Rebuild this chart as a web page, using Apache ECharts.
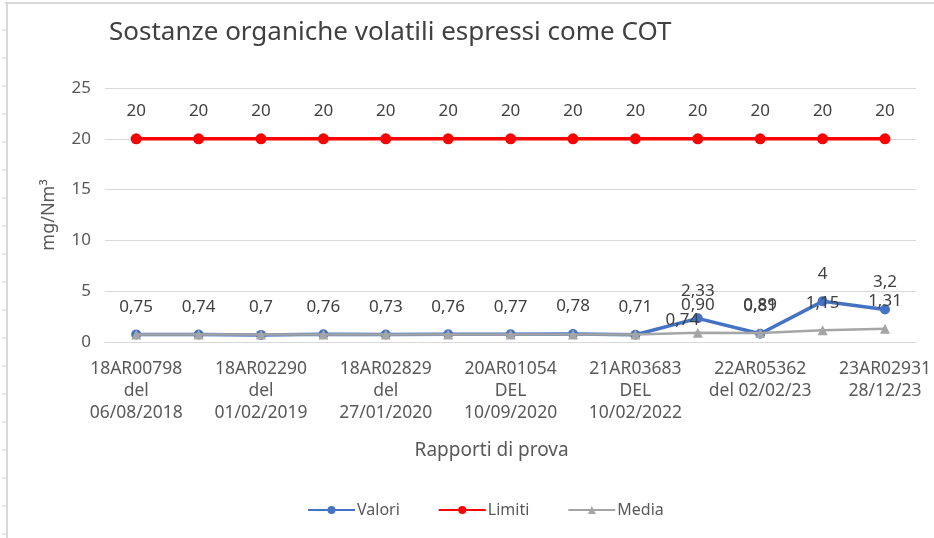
<!DOCTYPE html>
<html>
<head>
<meta charset="utf-8">
<script src="https://cdn.jsdelivr.net/npm/echarts@6/dist/echarts.min.js"></script>
<style>
html,body{margin:0;padding:0;background:#fff;}
#c{width:934px;height:538px;}
</style>
</head>
<body>
<div id="c"></div>
<script>
var categories = [
  "18AR00798\ndel\n06/08/2018",
  "18AR01580\ndel\n20/11/2018",
  "18AR02290\ndel\n01/02/2019",
  "19AR01420\ndel\n15/07/2019",
  "18AR02829\ndel\n27/01/2020",
  "20AR00310\ndel\n05/03/2020",
  "20AR01054\nDEL\n10/09/2020",
  "21AR00620\ndel\n12/03/2021",
  "21AR03683\nDEL\n10/02/2022",
  "22AR01840\ndel\n20/06/22",
  "22AR05362\ndel 02/02/23",
  "23AR01120\ndel 15/06/23",
  "23AR02931\n28/12/23"
];
var valori = [0.75, 0.74, 0.7, 0.76, 0.73, 0.76, 0.77, 0.78, 0.71, 2.33, 0.81, 4, 3.2];
var limiti = [20, 20, 20, 20, 20, 20, 20, 20, 20, 20, 20, 20, 20];
var media  = [0.75, 0.75, 0.73, 0.74, 0.74, 0.74, 0.74, 0.75, 0.74, 0.90, 0.89, 1.15, 1.31];
var yTicks = [0, 5, 10, 15, 20, 25];

var FONT = "Noto Sans";
var chart = echarts.init(document.getElementById('c'));

var mediaData = media.map(function (v, i) {
  var item = { value: v, label: { show: i >= 8 } };
  if (i === 8) item.label.offset = [47, 13];
  return item;
});

var rulerTicks = [];
for (var k = 0; k < 19; k++) {
  rulerTicks.push({
    type: 'line', silent: true,
    shape: { x1: 2, y1: 30 + 28 * k, x2: 7, y2: 30 + 28 * k },
    style: { stroke: '#d0d0d0', lineWidth: 1 }
  });
}

var option = {
  backgroundColor: '#fff',
  animation: false,
  textStyle: { fontFamily: FONT },
  title: {
    text: 'Sostanze organiche volatili espressi come COT',
    left: 104, top: 15,
    textStyle: { fontFamily: FONT, fontSize: 26, fontWeight: 'normal', color: '#404040' }
  },
  graphic: [
    { type: 'line', silent: true, shape: { x1: 5, y1: 3, x2: 934, y2: 3 }, style: { stroke: '#d9d9d9', lineWidth: 2 } },
    { type: 'line', silent: true, shape: { x1: 7, y1: 3, x2: 7, y2: 538 }, style: { stroke: '#d9d9d9', lineWidth: 2 } }
  ].concat(rulerTicks),
  legend: {
    data: ['Valori', 'Limiti', 'Media'],
    left: 302, top: 497,
    itemWidth: 47, itemHeight: 10, itemGap: 38,
    textStyle: { fontFamily: FONT, fontSize: 16, color: '#595959', padding: [0, 0, 0, -3] }
  },
  grid: { left: 105, right: 16, top: 88, bottom: 196 },
  xAxis: {
    type: 'category',
    data: categories,
    boundaryGap: true,
    name: 'Rapporti di prova',
    nameLocation: 'middle',
    nameGap: 99,
    nameTextStyle: { fontFamily: FONT, fontSize: 19, color: '#595959', padding: [0, 38, 0, 0] },
    axisLine: { show: true, lineStyle: { color: '#d9d9d9', width: 1 } },
    axisTick: { show: false },
    axisLabel: {
      interval: 1, margin: 16,
      fontFamily: FONT, fontSize: 17.5, lineHeight: 22, color: '#595959'
    }
  },
  yAxis: {
    type: 'value',
    min: yTicks[0], max: yTicks[yTicks.length - 1], interval: 5,
    name: 'mg/Nm³',
    nameLocation: 'middle',
    nameGap: 47,
    nameTextStyle: { fontFamily: FONT, fontSize: 18, color: '#595959' },
    axisLine: { show: false },
    axisTick: { show: false },
    axisLabel: { margin: 14, fontFamily: FONT, fontSize: 17, color: '#595959' },
    splitLine: { lineStyle: { color: '#d9d9d9', width: 1 } }
  },
  series: [
    {
      name: 'Valori', type: 'line', data: valori,
      symbol: 'circle', symbolSize: 10,
      itemStyle: { color: '#4472C4' },
      lineStyle: { color: '#4472C4', width: 3.5 },
      label: {
        show: true, position: 'top', distance: 14,
        fontFamily: FONT, fontSize: 17, color: '#404040',
        formatter: function (p) { return String(p.value).replace('.', ','); }
      },
      z: 3
    },
    {
      name: 'Limiti', type: 'line', data: limiti,
      symbol: 'circle', symbolSize: 11,
      itemStyle: { color: '#FF0000' },
      lineStyle: { color: '#FF0000', width: 3.5 },
      label: {
        show: true, position: 'top', distance: 14,
        fontFamily: FONT, fontSize: 17, color: '#404040',
        formatter: function (p) { return String(p.value).replace('.', ','); }
      },
      z: 3
    },
    {
      name: 'Media', type: 'line', data: mediaData,
      symbol: 'triangle', symbolSize: 10,
      itemStyle: { color: '#A5A5A5' },
      lineStyle: { color: '#A5A5A5', width: 2.5 },
      label: {
        position: 'top', distance: 14,
        fontFamily: FONT, fontSize: 17, color: '#404040',
        formatter: function (p) { return p.value.toFixed(2).replace('.', ','); }
      },
      z: 4
    }
  ]
};
chart.setOption(option);
</script>
</body>
</html>
